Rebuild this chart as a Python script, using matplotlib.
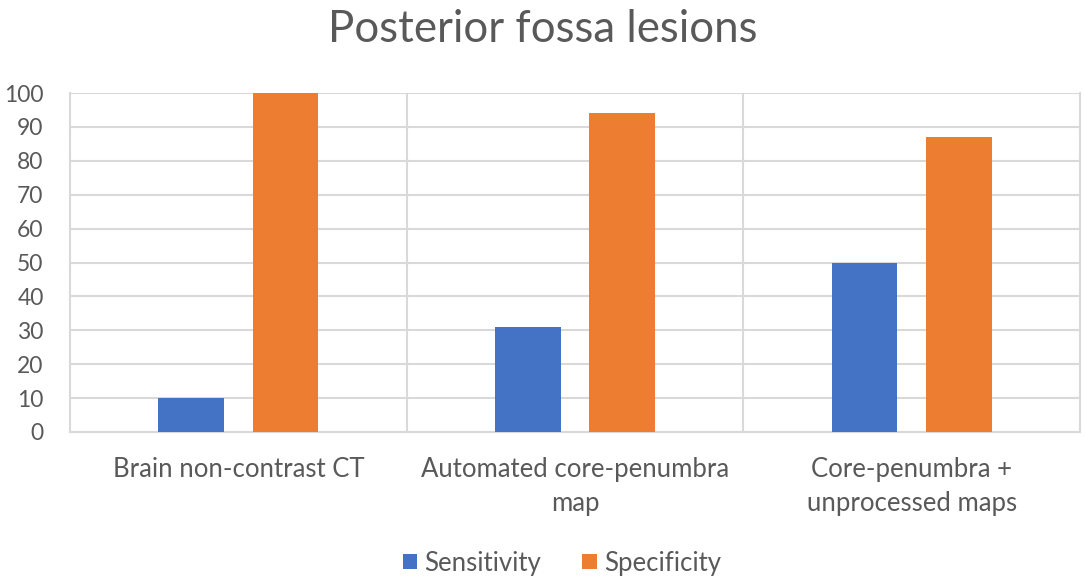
import matplotlib
matplotlib.use("Agg")
import matplotlib.pyplot as plt
import numpy as np

categories = ["Brain non-contrast CT", "Automated core-penumbra\nmap", "Core-penumbra +\nunprocessed maps"]
sensitivity = [10, 31, 50]
specificity = [100, 94, 87]
series_names = ["Sensitivity", "Specificity"]
yticks = list(range(0, 101, 10))

plt.rcParams['font.family'] = ['Lato', 'DejaVu Sans']
txt = '#595959'
grid = '#D9D9D9'

fig = plt.figure(figsize=(10.85, 5.84), dpi=100)
ax = fig.add_axes([70/1085, 1-432/584, 1010/1085, 339/584])

x = np.arange(len(categories))
w = 0.195
off = 0.14
ax.bar(x - off, sensitivity, w, color='#4472C4', label=series_names[0], zorder=3)
ax.bar(x + off, specificity, w, color='#ED7D31', label=series_names[1], zorder=3)

ax.set_xlim(-0.5, 2.5)
ax.set_ylim(0, 100)
ax.set_yticks(yticks)
ax.set_xticks(x)
ax.set_xticklabels(categories, fontsize=18.5, color=txt, linespacing=1.45, va='top')
ax.tick_params(axis='y', labelsize=16.5, labelcolor=txt, length=0, pad=19)
ax.tick_params(axis='x', length=0, pad=18)
for v in yticks:
    ax.axhline(v, color=grid, lw=1.5, zorder=1)
for v in [0.5, 1.5]:
    ax.axvline(v, color=grid, lw=1.5, zorder=1)
for s in ['left', 'right', 'bottom']:
    ax.spines[s].set_color(grid)
    ax.spines[s].set_linewidth(1.5)
ax.spines['top'].set_visible(False)

fig.text(0.5, 1-30/584, "Posterior fossa lesions", ha='center', va='center', fontsize=31.5, color=txt)

leg = fig.legend(loc='center', bbox_to_anchor=(562/1085, 1-563/584), ncol=2, frameon=False,
                 fontsize=18.5, handlelength=0.55, handleheight=0.55, handletextpad=0.3, columnspacing=1.6)
for t in leg.get_texts():
    t.set_color(txt)

fig.savefig("out.png", dpi=100, facecolor='white')
